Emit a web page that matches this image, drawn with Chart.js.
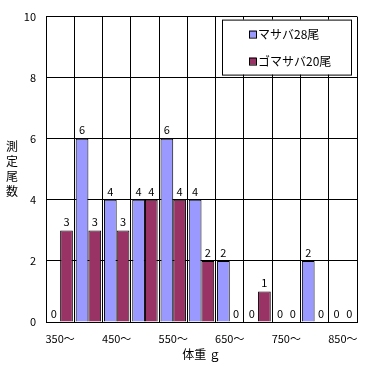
<!DOCTYPE html>
<html>
<head>
<meta charset="utf-8">
<script src="https://cdn.jsdelivr.net/npm/chart.js@4.4.0/dist/chart.umd.min.js"></script>
<style>
  html, body { margin: 0; padding: 0; background: #fff; }
  #wrap { position: relative; width: 375px; height: 366px; }
  #ytitle {
    position: absolute; left: 5px; top: 138px; width: 14px;
    font: 12px "Noto Sans CJK JP", sans-serif; line-height: 15px;
    text-align: center; color: #000;
  }
</style>
</head>
<body>
<div id="wrap">
  <canvas id="fishChart" width="375" height="366"></canvas>
  <div id="ytitle"></div>
</div>
<script>
// 体重階級（50g刻み）
const categories = ['350～', '400～', '450～', '500～', '550～', '600～', '650～', '700～', '750～', '800～', '850～'];
const masabaCounts = [0, 6, 4, 4, 6, 4, 2, 0, 0, 2, 0];
const gomasabaCounts = [3, 3, 3, 4, 4, 2, 0, 1, 0, 0, 0];
const seriesNames = ['マサバ28尾', 'ゴマサバ20尾'];
const yAxisTitle = ['測', '定', '尾', '数'];
const xAxisTitle = '体重 ｇ';

const FONT = '"Noto Sans CJK JP", "DejaVu Sans", sans-serif';

// 縦書きの軸タイトル（1文字ずつ改行）
document.getElementById('ytitle').innerHTML = yAxisTitle.join('<br>');

// 棒の上に数値を描く
const valueLabels = {
    id: 'valueLabels',
    afterDatasetsDraw(chart) {
        const ctx = chart.ctx;
        ctx.save();
        ctx.font = '11px ' + FONT;
        ctx.fillStyle = '#000';
        ctx.textAlign = 'center';
        ctx.textBaseline = 'bottom';
        chart.data.datasets.forEach((ds, i) => {
            chart.getDatasetMeta(i).data.forEach((bar, j) => {
                ctx.fillText(String(ds.data[j]), bar.x, bar.y - 3);
            });
        });
        ctx.restore();
    }
};

// 凡例（プロット内右上）
const boxLegend = {
    id: 'boxLegend',
    afterDraw(chart) {
        const ctx = chart.ctx;
        const area = chart.chartArea;
        ctx.save();
        const lx = area.right - 135, ly = area.top + 3, lw = 129, lh = 55;
        ctx.fillStyle = '#fff';
        ctx.fillRect(lx, ly, lw, lh);
        ctx.strokeStyle = '#000';
        ctx.lineWidth = 1;
        ctx.strokeRect(lx + 0.5, ly + 0.5, lw, lh);
        ctx.font = '12px ' + FONT;
        ctx.textBaseline = 'middle';
        chart.data.datasets.forEach((ds, i) => {
            const y = ly + 15 + i * 27;
            ctx.fillStyle = ds.backgroundColor;
            ctx.fillRect(lx + 27, y - 4, 7, 7);
            ctx.strokeRect(lx + 27.5, y - 3.5, 7, 7);
            ctx.fillStyle = '#000';
            ctx.textAlign = 'left';
            ctx.fillText(ds.label, lx + 36, y);
        });
        ctx.restore();
    }
};

const chart = new Chart(document.getElementById('fishChart'), {
    type: 'bar',
    data: {
        labels: categories,
        datasets: [
            {
                label: seriesNames[0],
                data: masabaCounts,
                backgroundColor: '#9999ff',
                borderColor: '#000',
                borderWidth: 1,
                categoryPercentage: 0.9,
                barPercentage: 1.0
            },
            {
                label: seriesNames[1],
                data: gomasabaCounts,
                backgroundColor: '#993366',
                borderColor: '#000',
                borderWidth: 1,
                categoryPercentage: 0.9,
                barPercentage: 1.0
            }
        ]
    },
    options: {
        responsive: false,
        animation: false,
        devicePixelRatio: 1,
        layout: { padding: { top: 14, right: 18, left: 0, bottom: 0 } },
        plugins: {
            legend: { display: false },
            tooltip: { enabled: false }
        },
        scales: {
            x: {
                grid: { color: '#000', lineWidth: 1, offset: true, drawTicks: false },
                border: { color: '#000' },
                ticks: {
                    color: '#000',
                    font: { size: 11, family: FONT },
                    padding: 10,
                    autoSkip: false,
                    maxRotation: 0,
                    callback: (v, i) => (i % 2 === 0 ? categories[i] : '')
                },
                title: {
                    display: true,
                    text: xAxisTitle,
                    color: '#000',
                    font: { size: 12, family: FONT },
                    padding: { top: 0, bottom: 4 }
                },
                afterFit: s => { s.height = 44; }
            },
            y: {
                min: 0,
                max: 10,
                grid: { color: '#000', lineWidth: 1, drawTicks: false },
                border: { color: '#000' },
                ticks: {
                    stepSize: 2,
                    color: '#000',
                    font: { size: 11, family: FONT },
                    padding: 10
                },
                afterFit: s => { s.width = 46; }
            }
        }
    },
    plugins: [valueLabels, boxLegend]
});
</script>
</body>
</html>
